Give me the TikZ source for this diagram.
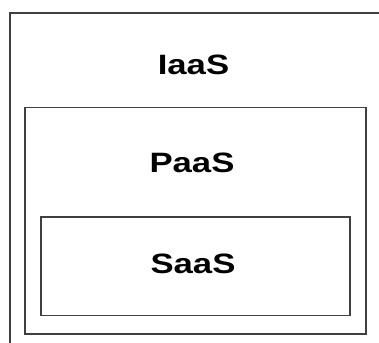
\documentclass[tikz,border=0pt]{standalone}
\usepackage{fontspec}
\setmainfont{Liberation Sans}
\begin{document}
\begin{tikzpicture}[x=1pt,y=-1pt,
  boxline/.style={draw=black!75,line width=1.7pt},
  lbl/.style={font=\fontsize{28}{30}\selectfont\bfseries,inner sep=0pt,anchor=base,text=black}]
\useasboundingbox (0,0) rectangle (379,342);
\fill[white] (0,0) rectangle (379,342);
\coordinate (otl) at (10,13);
\coordinate (otr) at (380,13);
\coordinate (obl) at (10,343);
\draw[boxline] (otr) -- (otl) -- (obl);
\node[boxline,draw,minimum width=341pt,minimum height=226.5pt,anchor=north west,inner sep=0pt] (paasbox) at (24,106.7) {};
\node[boxline,draw,minimum width=309pt,minimum height=98.5pt,anchor=north west,inner sep=0pt] (saasbox) at (40,216) {};
\node[lbl] (iaas) at (193.5,74.3) {\scalebox{1.24}[1]{IaaS}};
\node[lbl] (paas) at (192,172.7) {\scalebox{1.24}[1]{PaaS}};
\node[lbl] (saas) at (193,273.3) {\scalebox{1.24}[1]{SaaS}};
\end{tikzpicture}
\end{document}
